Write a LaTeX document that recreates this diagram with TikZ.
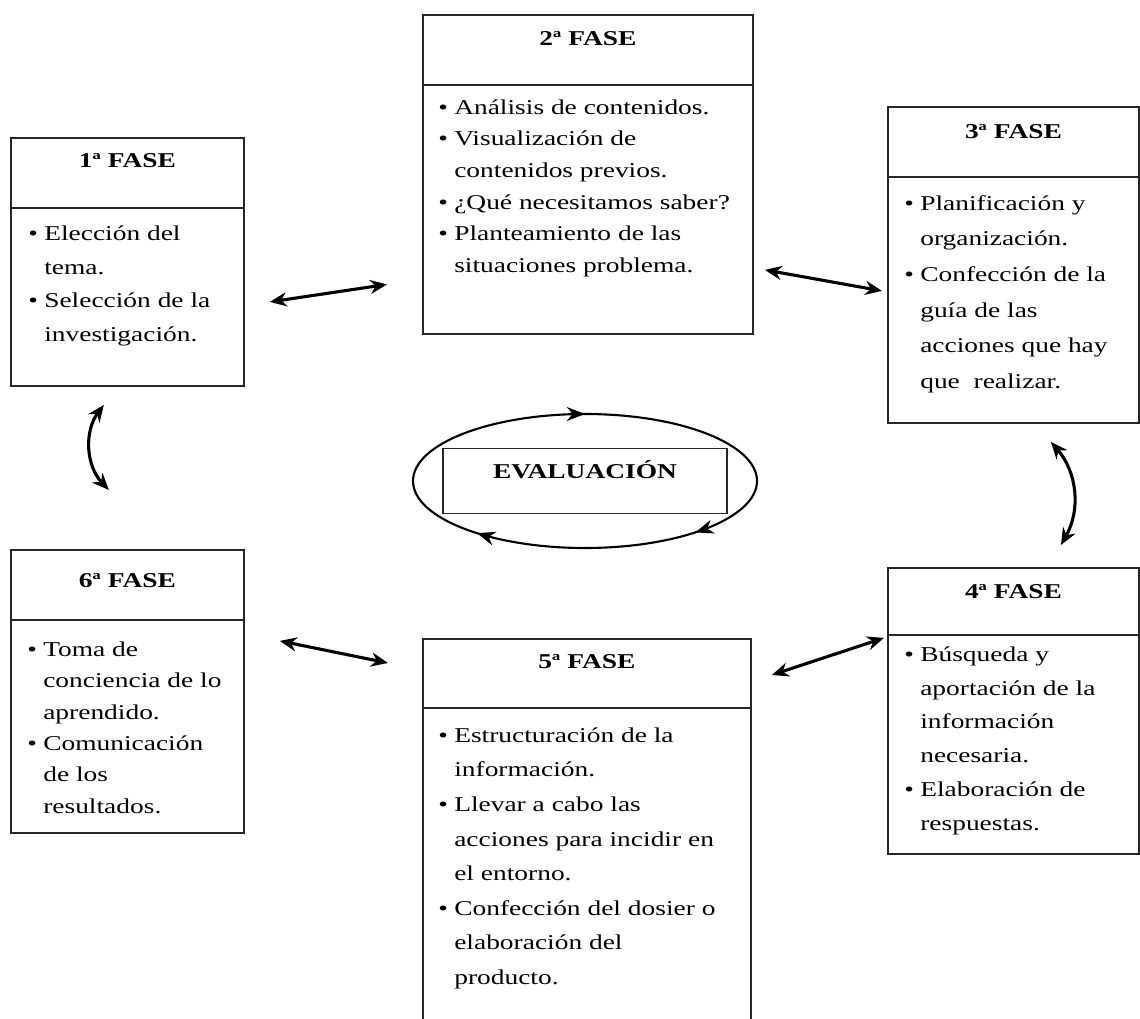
\documentclass[tikz,border=0pt]{standalone}
\usepackage{fontspec}
\setmainfont{Liberation Serif}[FakeStretch=1.3]
\usetikzlibrary{arrows.meta,calc,decorations.markings}

\newcommand{\px}{0.025cm}
\newcommand{\punto}{\makebox[11.4pt][l]{\textbullet}}
\newcommand{\sangria}{\hspace*{11.4pt}}

\tikzset{
  fase/.style={draw=black!85, line width=1.3pt, inner sep=0pt, anchor=north west},
  raya/.style={draw=black!85, line width=1.3pt},
  fasetitle/.style={font=\fontsize{15}{18}\selectfont\bfseries, inner sep=0pt, anchor=base},
  fasebody/.style={font=\fontsize{15}{24}\selectfont, align=left, inner sep=0pt, anchor=north west},
  biarrow/.style={line width=2.2pt, {Stealth[length=12pt,width=10pt]}-{Stealth[length=12pt,width=10pt]}},
  ciclo/.style={line width=1.5pt, postaction={decorate}, decoration={markings,
      mark=at position 0.108 with {\arrow{Stealth[length=13pt,width=10pt]}},
      mark=at position 0.389 with {\arrow{Stealth[length=13pt,width=10pt]}},
      mark=at position 0.75 with {\arrow{Stealth[length=13pt,width=10pt]}}}}
}

\begin{document}
\begin{tikzpicture}[x=0.025cm, y=-0.025cm]
  \useasboundingbox (0,0) rectangle (1140,1019);
  \clip (0,0) rectangle (1140,1019);

  % 1a fase
  \node[fase, minimum width=233*\px, minimum height=248*\px] (f1) at (10,137) {};
  \draw[raya] ($(f1.north west)+(0,71)$) -- ($(f1.north east)+(0,71)$);
  \node[fasetitle] (t1) at ($(f1.north)+(0,30)$) {1ª FASE};
  \node[fasebody] (b1) at ($(f1.north west)+(18,79.4)$)
    {\strut\punto Elección del\\ \sangria tema.\\ \punto Selección de la\\ \sangria investigación.};

  % 2a fase
  \node[fase, minimum width=330*\px, minimum height=319*\px] (f2) at (422,14) {};
  \draw[raya] ($(f2.north west)+(0,71)$) -- ($(f2.north east)+(0,71)$);
  \node[fasetitle] (t2) at ($(f2.north)+(0,31)$) {2ª FASE};
  \node[fasebody, font=\fontsize{15}{22.5}\selectfont] (b2) at ($(f2.north west)+(16,77.9)$)
    {\strut\punto Análisis de contenidos.\\ \punto Visualización de\\ \sangria contenidos previos.\\
     \punto ¿Qué necesitamos saber?\\ \punto Planteamiento de las\\ \sangria situaciones problema.};

  % 3a fase
  \node[fase, minimum width=251*\px, minimum height=316*\px] (f3) at (887,106) {};
  \draw[raya] ($(f3.north west)+(0,71)$) -- ($(f3.north east)+(0,71)$);
  \node[fasetitle] (t3) at ($(f3.north)+(0,32)$) {3ª FASE};
  \node[fasebody, font=\fontsize{15}{25.3}\selectfont] (b3) at ($(f3.north west)+(17,79.1)$)
    {\strut\punto Planificación y\\ \sangria organización.\\ \punto Confección de la\\ \sangria guía de las\\
     \sangria acciones que hay\\ \sangria que\ \ realizar.};

  % 4a fase
  \node[fase, minimum width=251*\px, minimum height=286*\px] (f4) at (887,567) {};
  \draw[raya] ($(f4.north west)+(0,68)$) -- ($(f4.north east)+(0,68)$);
  \node[fasetitle] (t4) at ($(f4.north)+(0,31)$) {4ª FASE};
  \node[fasebody] (b4) at ($(f4.north west)+(17,70.4)$)
    {\strut\punto Búsqueda y\\ \sangria aportación de la\\ \sangria información\\ \sangria necesaria.\\
     \punto Elaboración de\\ \sangria respuestas.};

  % 5a fase
  \node[fase, minimum width=328*\px, minimum height=420*\px] (f5) at (422,638) {};
  \draw[raya] ($(f5.north west)+(0,70)$) -- ($(f5.north east)+(0,70)$);
  \node[fasetitle] (t5) at ($(f5.north)+(0,30)$) {5ª FASE};
  \node[fasebody, font=\fontsize{15}{24.6}\selectfont] (b5) at ($(f5.north west)+(16,79.8)$)
    {\strut\punto Estructuración de la\\ \sangria información.\\ \punto Llevar a cabo las\\
     \sangria acciones para incidir en\\ \sangria el entorno.\\ \punto Confección del dosier o\\
     \sangria elaboración del\\ \sangria producto.};

  % 6a fase
  \node[fase, minimum width=233*\px, minimum height=283*\px] (f6) at (10,549) {};
  \draw[raya] ($(f6.north west)+(0,71)$) -- ($(f6.north east)+(0,71)$);
  \node[fasetitle] (t6) at ($(f6.north)+(0,38)$) {6ª FASE};
  \node[fasebody, font=\fontsize{15}{22.3}\selectfont] (b6) at ($(f6.north west)+(17,85.1)$)
    {\strut\punto Toma de\\ \sangria conciencia de lo\\ \sangria aprendido.\\ \punto Comunicación\\
     \sangria de los\\ \sangria resultados.};

  % evaluacion
  \node[draw=black!85, line width=1.3pt, minimum width=284*\px, minimum height=65*\px] (ev) at (585,481) {};
  \node[fasetitle] (evt) at ($(ev.north)+(0,31)$) {EVALUACIÓN};
  \draw[ciclo] (ev.center) ellipse [x radius=172, y radius=67];

  % flechas
  \draw[biarrow] ($(f1.east)+(25,40)$) -- ($(f2.west)+(-35,110)$);
  \draw[biarrow] ($(f2.east)+(11,95.5)$) -- ($(f3.west)+(-5,26)$);
  \draw[biarrow] ($(f3.south)+(37.5,18)$) to[bend left=35] ($(f4.north)+(47.5,-22)$);
  \draw[biarrow] ($(f5.north east)+(20,37)$) -- ($(f4.west)+(-3,-73)$);
  \draw[biarrow] ($(f6.east)+(35,-50.5)$) -- ($(f5.north west)+(-34,25)$);
  \draw[biarrow] ($(f1.south)+(-23.5,18)$) to[bend right=40] ($(f6.north)+(-18.5,-59)$);
\end{tikzpicture}
\end{document}
